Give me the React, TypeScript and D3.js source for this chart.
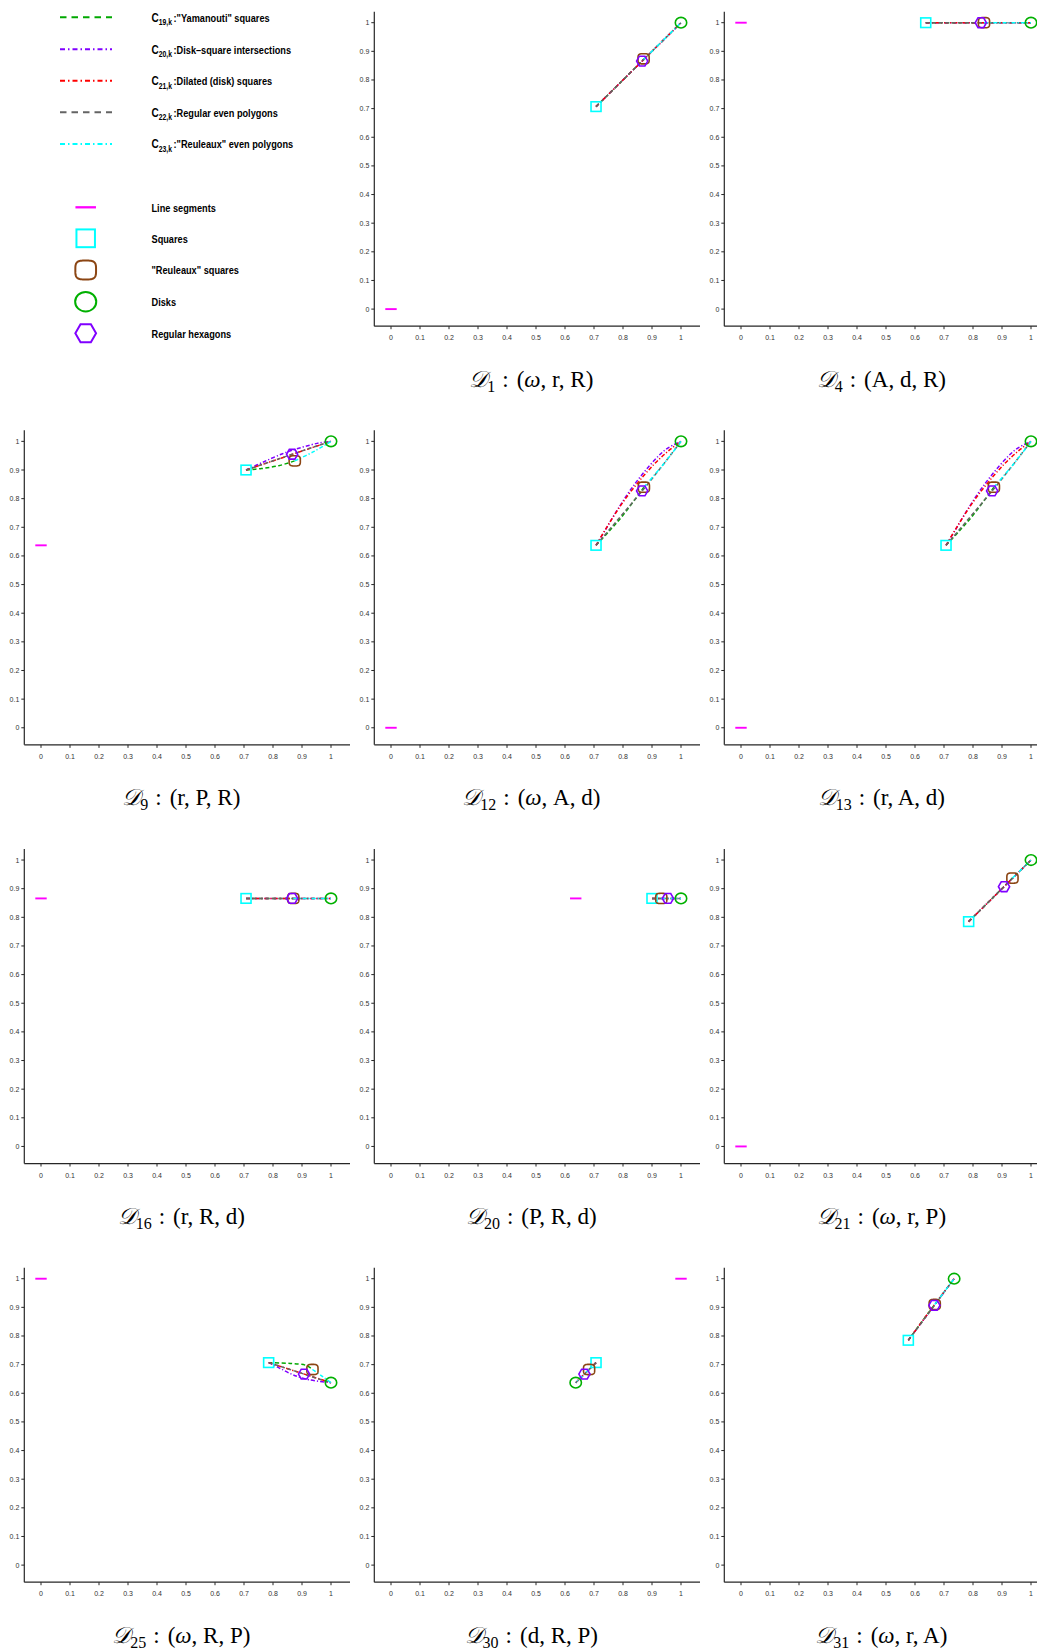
import React from 'react';
import * as d3 from 'd3';

// ---------- data ----------
const tickValues = [0, 0.1, 0.2, 0.3, 0.4, 0.5, 0.6, 0.7, 0.8, 0.9, 1];
const tickLabels = ['0', '0.1', '0.2', '0.3', '0.4', '0.5', '0.6', '0.7', '0.8', '0.9', '1'];

const panelIds = ['1', '4', '9', '12', '13', '16', '20', '21', '25', '30', '31'];
const panelVars = [
  ['ω', 'r', 'R'], ['A', 'd', 'R'], ['r', 'P', 'R'], ['ω', 'A', 'd'], ['r', 'A', 'd'], ['r', 'R', 'd'],
  ['P', 'R', 'd'], ['ω', 'r', 'P'], ['ω', 'R', 'P'], ['d', 'R', 'P'], ['ω', 'r', 'A'],
];

const legendCurveLabels = [
  ['19,k', ':"Yamanouti" squares'],
  ['20,k', ':Disk–square intersections'],
  ['21,k', ':Dilated (disk) squares'],
  ['22,k', ':Regular even polygons'],
  ['23,k', ':"Reuleaux" even polygons'],
];
const legendShapeLabels = ['Line segments', 'Squares', '"Reuleaux" squares', 'Disks', 'Regular hexagons'];

type P = [number, number];

const segmentPts: (P | null)[] = [
  [0, 0], [0, 1], [0, 0.637], [0, 0], [0, 0], [0, 0.866], [0.637, 0.866], [0, 0], [0, 1], [1, 1], null,
];
const squarePts: P[] = [
  [0.707, 0.707], [0.637, 1], [0.707, 0.9], [0.707, 0.637], [0.707, 0.637], [0.707, 0.866],
  [0.9, 0.866], [0.785, 0.785], [0.785, 0.707], [0.707, 0.707], [0.577, 0.785],
];
const reuleauxPts: P[] = [
  [0.871, 0.874], [0.838, 1], [0.875, 0.932], [0.872, 0.84], [0.872, 0.84], [0.87, 0.866],
  [0.932, 0.866], [0.936, 0.937], [0.936, 0.683], [0.683, 0.683], [0.668, 0.91],
];
const diskPts: P[] = [
  [1, 1], [1, 1], [1, 1], [1, 1], [1, 1], [1, 0.866], [1, 0.866], [1, 1], [1, 0.637], [0.637, 0.637], [0.735, 1],
];
const hexagonPts: P[] = [
  [0.866, 0.866], [0.827, 1], [0.866, 0.955], [0.866, 0.827], [0.866, 0.827], [0.866, 0.866],
  [0.955, 0.866], [0.907, 0.907], [0.907, 0.667], [0.667, 0.667], [0.667, 0.907],
];

// C19: "Yamanouti" squares
const c19Curves: P[][] = [
  [[0.707, 0.707], [0.79, 0.79], [0.871, 0.872]],
  [[0.637, 1], [0.838, 1]],
  [[0.707, 0.9], [0.76, 0.905], [0.82, 0.915], [0.875, 0.932]],
  [[0.707, 0.637], [0.75, 0.684], [0.8, 0.742], [0.872, 0.84]],
  [[0.707, 0.637], [0.75, 0.684], [0.8, 0.742], [0.872, 0.84]],
  [[0.707, 0.866], [0.87, 0.866]],
  [[0.9, 0.866], [0.932, 0.866]],
  [[0.785, 0.785], [0.86, 0.86], [0.936, 0.937]],
  [[0.785, 0.707], [0.86, 0.704], [0.915, 0.697], [0.936, 0.683]],
  [[0.707, 0.707], [0.695, 0.695], [0.683, 0.683]],
  [[0.577, 0.785], [0.62, 0.845], [0.668, 0.91]],
];
// C20: disk-square intersections
const c20Curves: P[][] = [
  [[0.707, 0.707], [0.85, 0.85], [1, 1]],
  [[0.637, 1], [1, 1]],
  [[0.707, 0.9], [0.769, 0.929], [0.833, 0.957], [0.866, 0.969], [0.952, 0.993], [1, 1]],
  [[0.707, 0.637], [0.741, 0.694], [0.769, 0.742], [0.833, 0.841], [0.909, 0.935], [0.952, 0.975], [1, 1]],
  [[0.707, 0.637], [0.741, 0.694], [0.769, 0.742], [0.833, 0.841], [0.909, 0.935], [0.952, 0.975], [1, 1]],
  [[0.707, 0.866], [1, 0.866]],
  [[0.9, 0.866], [1, 0.866]],
  [[0.785, 0.785], [0.9, 0.9], [1, 1]],
  [[0.785, 0.707], [0.809, 0.695], [0.828, 0.685], [0.87, 0.664], [0.925, 0.647], [1, 0.637]],
  [[0.707, 0.707], [0.67, 0.67], [0.637, 0.637]],
  [[0.577, 0.785], [0.66, 0.898], [0.735, 1]],
];
// C21: dilated (disk) squares
const c21Curves: P[][] = [
  [[0.707, 0.707], [0.85, 0.85], [1, 1]],
  [[0.637, 1], [1, 1]],
  [[0.707, 0.9], [0.83, 0.942], [0.92, 0.973], [1, 1]],
  [[0.707, 0.637], [0.744, 0.7], [0.794, 0.779], [0.842, 0.844], [0.906, 0.919], [0.956, 0.966], [1, 1]],
  [[0.707, 0.637], [0.744, 0.7], [0.794, 0.779], [0.842, 0.844], [0.906, 0.919], [0.956, 0.966], [1, 1]],
  [[0.707, 0.866], [1, 0.866]],
  [[0.9, 0.866], [1, 0.866]],
  [[0.785, 0.785], [0.9, 0.9], [1, 1]],
  [[0.785, 0.707], [0.88, 0.676], [1, 0.637]],
  [[0.707, 0.707], [0.67, 0.67], [0.637, 0.637]],
  [[0.577, 0.785], [0.66, 0.9], [0.735, 1]],
];
// C22: regular even polygons
const c22Curves: P[][] = [
  [[0.707, 0.707], [0.866, 0.866], [0.924, 0.924], [0.951, 0.951], [1, 1]],
  [[0.637, 1], [0.827, 1], [0.9, 1], [1, 1]],
  [[0.707, 0.9], [0.866, 0.955], [0.924, 0.975], [0.951, 0.984], [1, 1]],
  [[0.707, 0.637], [0.866, 0.827], [0.924, 0.9], [0.951, 0.935], [0.966, 0.955], [1, 1]],
  [[0.707, 0.637], [0.866, 0.827], [0.924, 0.9], [0.951, 0.935], [0.966, 0.955], [1, 1]],
  [[0.707, 0.866], [0.866, 0.866], [1, 0.866]],
  [[0.9, 0.866], [0.955, 0.866], [1, 0.866]],
  [[0.785, 0.785], [0.907, 0.907], [0.948, 0.948], [1, 1]],
  [[0.785, 0.707], [0.907, 0.667], [0.948, 0.653], [0.967, 0.647], [1, 0.637]],
  [[0.707, 0.707], [0.667, 0.667], [0.653, 0.653], [0.637, 0.637]],
  [[0.577, 0.785], [0.667, 0.907], [0.7, 0.953], [0.735, 1]],
];
// C23: "Reuleaux" even polygons
const c23Curves: P[][] = [
  [[0.871, 0.872], [0.94, 0.94], [1, 1]],
  [[0.838, 1], [1, 1]],
  [[0.875, 0.932], [0.94, 0.964], [1, 1]],
  [[0.872, 0.84], [0.94, 0.921], [1, 1]],
  [[0.872, 0.84], [0.94, 0.921], [1, 1]],
  [[0.87, 0.866], [1, 0.866]],
  [[0.932, 0.866], [1, 0.866]],
  [[0.936, 0.937], [1, 1]],
  [[0.936, 0.683], [0.97, 0.659], [1, 0.637]],
  [[0.683, 0.683], [0.637, 0.637]],
  [[0.668, 0.91], [0.735, 1]],
];

// ---------- styles ----------
const COLORS = {
  c19: '#00a800', c20: '#8000ff', c21: '#ff0000', c22: '#646464', c23: '#00ffff',
  seg: '#ff00ff', square: '#00ffff', reuleaux: '#8b4513', disk: '#00b000', hex: '#8000ff',
};
const curveStyles = [
  { key: 'c19', color: COLORS.c19, dash: '4,2.5', legendDash: '6.5,5' },
  { key: 'c20', color: COLORS.c20, dash: '4,2,1.2,2', legendDash: '5,3,1.5,3' },
  { key: 'c21', color: COLORS.c21, dash: '4,2,1.2,2', legendDash: '5,3,1.5,3' },
  { key: 'c22', color: COLORS.c22, dash: '4,2.5', legendDash: '6.5,5' },
  { key: 'c23', color: COLORS.c23, dash: '4,2,1.2,2', legendDash: '5,3,1.5,3' },
];
const allCurves = [c19Curves, c20Curves, c21Curves, c22Curves, c23Curves];

// ---------- marker shapes ----------
function superellipsePath(cx: number, cy: number, a: number, b: number) {
  const pts: [number, number][] = d3.range(0, 64).map((k) => {
    const t = (k / 64) * Math.PI * 2;
    const c = Math.cos(t), s = Math.sin(t);
    return [cx + a * Math.sign(c) * Math.pow(Math.abs(c), 0.55), cy + b * Math.sign(s) * Math.pow(Math.abs(s), 0.55)];
  });
  return 'M' + pts.map((p) => p.join(',')).join('L') + 'Z';
}
function hexPoints(cx: number, cy: number, w: number, h: number) {
  return [
    [cx - w / 2, cy], [cx - w / 4, cy - h / 2], [cx + w / 4, cy - h / 2],
    [cx + w / 2, cy], [cx + w / 4, cy + h / 2], [cx - w / 4, cy + h / 2],
  ].map((p) => p.join(',')).join(' ');
}

function Markers({ cx, cy, kind, s, sw }: { cx: number; cy: number; kind: string; s: number; sw: number }) {
  if (kind === 'seg')
    return <line x1={cx - 5.7 * s} x2={cx + 5.7 * s} y1={cy} y2={cy} stroke={COLORS.seg} strokeWidth={sw + 0.3} />;
  if (kind === 'square')
    return <rect x={cx - 5 * s} y={cy - 4.8 * s} width={10 * s} height={9.6 * s} fill="none" stroke={COLORS.square} strokeWidth={sw} />;
  if (kind === 'reuleaux')
    return <path d={superellipsePath(cx, cy, 5.6 * s, 5.1 * s)} fill="none" stroke={COLORS.reuleaux} strokeWidth={sw} />;
  if (kind === 'disk')
    return <ellipse cx={cx} cy={cy} rx={5.7 * s} ry={5.3 * s} fill="none" stroke={COLORS.disk} strokeWidth={sw} />;
  return <polygon points={hexPoints(cx, cy, 11.2 * s, 9.8 * s)} fill="none" stroke={COLORS.hex} strokeWidth={sw} />;
}

// ---------- legend ----------
function Legend() {
  const lineYs = [17.3, 49.3, 80.7, 112.3, 144];
  const shapeYs = [207.3, 238.3, 270, 301.7, 333.3];
  const shapeKinds = ['seg', 'square', 'reuleaux', 'disk', 'hex'];
  return (
    <g>
      {curveStyles.map((cs, i) => (
        <g key={cs.key}>
          <line x1={60} x2={112} y1={lineYs[i]} y2={lineYs[i]} stroke={cs.color} strokeWidth={2} strokeDasharray={cs.legendDash} />
          <g transform={`translate(151.5,${lineYs[i] + 4.3}) scale(0.8,1)`}>
            <text fontWeight="bold" fontSize={11.5} fill="#000">
              <tspan fontSize={12.5}>C</tspan>
              <tspan fontSize={8.5} dy={3.5}>{legendCurveLabels[i][0]}</tspan>
              <tspan dy={-3.5} dx={2}>{legendCurveLabels[i][1]}</tspan>
            </text>
          </g>
        </g>
      ))}
      {shapeKinds.map((k, i) => (
        <g key={k}>
          <Markers cx={85.7} cy={shapeYs[i]} kind={k} s={k === 'seg' ? 1.8 : 1.85} sw={2} />
          <g transform={`translate(151.5,${shapeYs[i] + 4.2}) scale(0.8,1)`}>
            <text fontWeight="bold" fontSize={11.5} fill="#000">{legendShapeLabels[i]}</text>
          </g>
        </g>
      ))}
    </g>
  );
}

// ---------- panel ----------
function Panel({ i }: { i: number }) {
  const cell = i + 1;
  const row = Math.floor(cell / 3), col = cell % 3;
  const ox = 24.3 + 350 * col;
  const y1 = 22.7 + 418.67 * row;
  const x = d3.scaleLinear().domain([0, 1]).range([ox + 16.7, ox + 306.7]);
  const y = d3.scaleLinear().domain([0, 1]).range([y1 + 286.4, y1]);
  const axisY = y1 + 303.5;
  const axisTop = y1 - 11;
  const line = d3.line<P>().x((d) => x(d[0])).y((d) => y(d[1])).curve(d3.curveCatmullRom.alpha(0.5));
  const vars = panelVars[i];
  const seg = segmentPts[i];
  return (
    <g>
      {/* axes */}
      <line x1={ox} x2={ox} y1={axisTop} y2={axisY} stroke="#262626" strokeWidth={1.2} />
      <line x1={ox} x2={ox + 325.7} y1={axisY} y2={axisY} stroke="#262626" strokeWidth={1.2} />
      {tickValues.map((t, k) => (
        <g key={'y' + k}>
          <line x1={ox - 3} x2={ox} y1={y(t)} y2={y(t)} stroke="#262626" strokeWidth={1} />
          <text x={ox - 5} y={y(t) + 2.5} fontSize={7} textAnchor="end" fill="#333">{tickLabels[k]}</text>
        </g>
      ))}
      {tickValues.map((t, k) => (
        <g key={'x' + k}>
          <line x1={x(t)} x2={x(t)} y1={axisY} y2={axisY + 3} stroke="#262626" strokeWidth={1} />
          <text x={x(t)} y={axisY + 14} fontSize={7} textAnchor="middle" fill="#333">{tickLabels[k]}</text>
        </g>
      ))}
      {/* curves */}
      {allCurves.map((cv, k) => (
        <path key={'c' + k} d={line(cv[i]) || ''} fill="none" stroke={curveStyles[k].color} strokeWidth={1.5} strokeDasharray={curveStyles[k].dash} />
      ))}
      {/* markers */}
      {seg && <Markers cx={x(seg[0])} cy={y(seg[1])} kind="seg" s={1} sw={1.6} />}
      <Markers cx={x(squarePts[i][0])} cy={y(squarePts[i][1])} kind="square" s={1} sw={1.6} />
      <Markers cx={x(reuleauxPts[i][0])} cy={y(reuleauxPts[i][1])} kind="reuleaux" s={1} sw={1.6} />
      <Markers cx={x(diskPts[i][0])} cy={y(diskPts[i][1])} kind="disk" s={1} sw={1.6} />
      <Markers cx={x(hexagonPts[i][0])} cy={y(hexagonPts[i][1])} kind="hex" s={1} sw={1.6} />
      {/* title */}
      <text x={ox + 157} y={y1 + 364} textAnchor="middle" fontFamily="'Liberation Serif', 'DejaVu Serif', serif" fontSize={23} fill="#000">
        <tspan fontFamily="'DejaVu Serif', serif" fontStyle="italic">𝒟</tspan>
        <tspan fontSize={16} dy={5}>{panelIds[i]}</tspan>
        <tspan dy={-5} dx={7}>:</tspan>
        <tspan dx={8}>(</tspan>
        {vars.map((v, k) => (
          <React.Fragment key={k}>
            <tspan fontStyle={v === 'ω' ? 'italic' : 'normal'}>{v}</tspan>
            {k < 2 && <tspan>, </tspan>}
          </React.Fragment>
        ))}
        <tspan>)</tspan>
      </text>
    </g>
  );
}

export default function App() {
  return (
    <svg width={1037} height={1652} style={{ position: 'absolute', left: 0, top: 0 }} fontFamily="'Liberation Sans', Arial, sans-serif">
      <rect x={0} y={0} width={1037} height={1652} fill="#fff" />
      <Legend />
      {panelIds.map((id, i) => <Panel key={id} i={i} />)}
    </svg>
  );
}
